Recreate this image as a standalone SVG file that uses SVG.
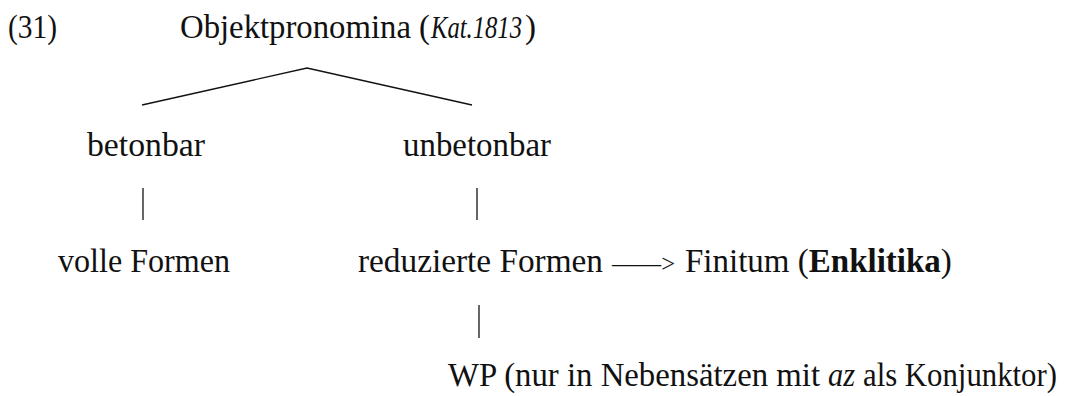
<svg xmlns="http://www.w3.org/2000/svg" width="1070" height="396" viewBox="0 0 1070 396">
<style>
.t{font-family:"Liberation Serif","DejaVu Serif",serif;font-size:33px;fill:#111}
.b{font-weight:bold}
.i{font-style:italic}
.a{font-size:25px}
.c{stroke:#111;stroke-width:1.4;fill:none}
.v{stroke:#333;stroke-width:1.5;fill:none}
</style>
<rect width="1070" height="396" fill="#fff"/>
<g id="label31"><text class="t" x="8" y="38" textLength="49" lengthAdjust="spacingAndGlyphs">(31)</text></g>
<g id="root">
<text class="t" x="180" y="38" textLength="250" lengthAdjust="spacingAndGlyphs">Objektpronomina (</text>
<text class="t i" x="431" y="38" textLength="91" lengthAdjust="spacingAndGlyphs" style="font-size:31px">Kat.1813</text>
<text class="t" x="525" y="38">)</text>
</g>
<g id="betonbar"><text class="t" x="87" y="156" textLength="118" lengthAdjust="spacingAndGlyphs">betonbar</text></g>
<g id="unbetonbar"><text class="t" x="403" y="156" textLength="148" lengthAdjust="spacingAndGlyphs">unbetonbar</text></g>
<g id="volle"><text class="t" x="58" y="272" textLength="172" lengthAdjust="spacingAndGlyphs">volle Formen</text></g>
<g id="reduziert"><text class="t" x="358" y="272" textLength="245" lengthAdjust="spacingAndGlyphs">reduzierte Formen</text></g>
<g id="finitum"><text class="t a" x="612" y="272" textLength="63" lengthAdjust="spacingAndGlyphs">——&gt;</text><text class="t" x="685" y="272">Finitum (<tspan class="b">Enklitika</tspan>)</text></g>
<g id="wp">
<text class="t" x="448" y="386" textLength="372" lengthAdjust="spacingAndGlyphs">WP (nur in Nebensätzen mit</text>
<text class="t i" x="828" y="386" textLength="27" lengthAdjust="spacingAndGlyphs">az</text>
<text class="t" x="863" y="386" textLength="194" lengthAdjust="spacingAndGlyphs">als Konjunktor)</text>
</g>
<g id="connectors">
<polyline class="c" points="142,105 307,68 472,105"/>
<line class="v" x1="143" y1="188" x2="143" y2="220"/>
<line class="v" x1="477" y1="188" x2="477" y2="220"/>
<line class="v" x1="479" y1="305" x2="479" y2="338"/>
</g>
</svg>
